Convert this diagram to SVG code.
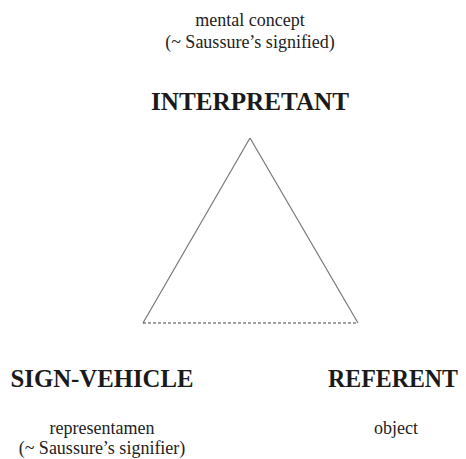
<svg xmlns="http://www.w3.org/2000/svg" width="466" height="459" viewBox="0 0 466 459">
<style>
.sm{font-family:"Liberation Serif","Times New Roman",serif;font-size:18px;fill:#222;text-anchor:middle}
.bg{font-family:"Liberation Serif","Times New Roman",serif;font-size:26px;font-weight:bold;fill:#1a1a1a;text-anchor:middle}
.side{stroke:#777;stroke-width:1.2;fill:none}
.dash{stroke:#444;stroke-width:1;stroke-dasharray:3 2;fill:none}
</style>
<rect width="466" height="459" fill="#fff"/>
<g id="connectors">
<line class="side" x1="250" y1="138" x2="143" y2="323"/>
<line class="side" x1="250" y1="138" x2="358" y2="323"/>
<line class="dash" x1="143" y1="323" x2="358" y2="323"/>
</g>
<g id="interpretant">
<text class="sm" x="250" y="26">mental concept</text>
<text class="sm" x="250" y="48">(~ Saussure’s signified)</text>
<text class="bg" x="250" y="110" textLength="198" lengthAdjust="spacingAndGlyphs">INTERPRETANT</text>
</g>
<g id="sign-vehicle">
<text class="bg" x="102" y="387" textLength="183" lengthAdjust="spacingAndGlyphs">SIGN-VEHICLE</text>
<text class="sm" x="102" y="434">representamen</text>
<text class="sm" x="102" y="454">(~ Saussure’s signifier)</text>
</g>
<g id="referent">
<text class="bg" x="393" y="387" style="font-size:25px" textLength="130" lengthAdjust="spacingAndGlyphs">REFERENT</text>
<text class="sm" x="396" y="434">object</text>
</g>
</svg>
